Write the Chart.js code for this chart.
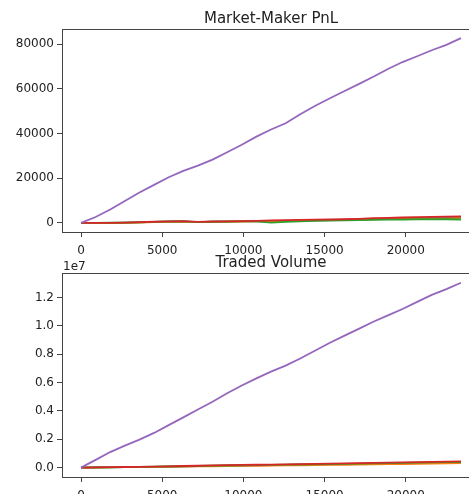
<!DOCTYPE html>
<html>
<head>
<meta charset="utf-8">
<script src="https://cdn.jsdelivr.net/npm/chart.js@4.4.0/dist/chart.umd.min.js"></script>
<style>
  html, body { margin: 0; padding: 0; background: #fff; overflow: hidden; width: 469px; height: 494px; }
  canvas { position: absolute; left: 0; }
  #pnlChart { top: 0; }
  #volChart { top: 240px; }
</style>
</head>
<body>
<canvas id="pnlChart" width="500" height="262"></canvas>
<canvas id="volChart" width="500" height="270"></canvas>
<script>
// time steps (x)
const steps = [0, 900, 1800, 2700, 3600, 4500, 5400, 6300, 7200, 8100, 9000, 9900, 10800, 11700,
  12600, 13500, 14400, 15300, 16200, 17100, 18000, 18900, 19800, 20700, 21600, 22500, 23400];

// market-maker PnL, one array per market maker
const pnlBlue = [0, 0, 0, 80, 200, 400, 550, 650, 350, 500, 600, 700, 800, 700, 850, 1000, 1100, 1250, 1400, 1550, 1700, 1800, 1950, 2100, 2200, 2300, 2400];
const pnlOrange = [0, -100, -100, 0, 150, 300, 450, 550, 300, 400, 500, 600, 700, 800, 900, 1000, 1100, 1200, 1300, 1500, 1600, 1700, 1800, 1900, 2000, 2000, 2100];
const pnlGreen = [0, 0, 50, 100, 250, 450, 600, 700, 350, 500, 550, 650, 700, 100, 450, 700, 900, 1000, 1100, 1200, 1300, 1400, 1500, 1600, 1700, 1600, 1500];
const pnlRed = [0, -50, 0, 100, 300, 500, 700, 800, 400, 600, 700, 800, 900, 1100, 1200, 1300, 1400, 1500, 1600, 1800, 2100, 2200, 2400, 2600, 2700, 2800, 2900];
const pnlPurple = [0, 2600, 6000, 9800, 13600, 17000, 20400, 23300, 25600, 28300, 31600, 35000, 38600, 41800, 44600, 48600, 52300, 55700, 58900, 62100, 65400, 68900, 72000, 74600, 77300, 79700, 82700];

// traded volume
const volBlue = [0, 12000, 24000, 36000, 48000, 61000, 76000, 92000, 108000, 124000, 139000, 153000, 166000, 179000, 192000, 205000, 218000, 231000, 244000, 259000, 277000, 294000, 309000, 324000, 339000, 355000, 370000];
const volOrange = [0, 10000, 20000, 30000, 40000, 50000, 62000, 75000, 88000, 100000, 112000, 123000, 134000, 145000, 156000, 168000, 180000, 192000, 204000, 216000, 230000, 244000, 258000, 272000, 288000, 304000, 320000];
const volGreen = [0, 13000, 26000, 39000, 52000, 66000, 82000, 100000, 118000, 136000, 152000, 166000, 180000, 194000, 208000, 222000, 236000, 250000, 264000, 280000, 300000, 318000, 334000, 350000, 366000, 384000, 400000];
const volRed = [0, 15000, 30000, 45000, 60000, 75000, 95000, 115000, 135000, 155000, 175000, 190000, 205000, 220000, 235000, 250000, 265000, 280000, 295000, 315000, 340000, 360000, 375000, 390000, 410000, 430000, 450000];
const volPurple = [0, 550000, 1100000, 1550000, 1980000, 2450000, 3000000, 3550000, 4100000, 4650000, 5250000, 5800000, 6300000, 6780000, 7200000, 7700000, 8250000, 8800000, 9300000, 9800000, 10300000, 10750000, 11200000, 11700000, 12200000, 12600000, 13050000];

// tick labels
const xTicks = [0, 5000, 10000, 15000, 20000];
const pnlTicks = [0, 20000, 40000, 60000, 80000];
const volTicks = [0, 2000000, 4000000, 6000000, 8000000, 10000000, 12000000];

const colors = ['#1f77b4', '#ff7f0e', '#2ca02c', '#d62728', '#9467bd'];
const font = { family: 'DejaVu Sans', size: 12 };
const textColor = '#222';

// draws the matplotlib-like frame, title and offset text
const framePlugin = {
  id: 'frame',
  afterDraw(chart, args, opts) {
    const ctx = chart.ctx;
    const a = chart.chartArea;
    ctx.save();
    ctx.strokeStyle = '#444';
    ctx.lineWidth = 1;
    ctx.strokeRect(a.left + 0.5, a.top + 0.5, a.right - a.left, a.bottom - a.top);
    ctx.fillStyle = textColor;
    ctx.font = '15px "DejaVu Sans"';
    ctx.textAlign = 'center';
    ctx.textBaseline = 'alphabetic';
    ctx.fillText(opts.title, (a.left + a.right) / 2, a.top - 6.5);
    if (opts.offset) {
      ctx.font = '12px "DejaVu Sans"';
      ctx.textAlign = 'left';
      ctx.fillText(opts.offset, a.left + 1, a.top - 3.5);
    }
    ctx.restore();
  }
};

function makeChart(id, series, yTicks, yMin, yMax, padTop, xHeight, title, offset, fmt) {
  const datasets = series.map((s, i) => ({
    data: s.map((v, j) => ({ x: steps[j], y: v })),
    borderColor: colors[i],
    borderWidth: 1.8,
    pointRadius: 0,
    tension: 0,
    fill: false,
    order: series.length - i
  }));
  return new Chart(document.getElementById(id), {
    type: 'line',
    data: { datasets },
    plugins: [framePlugin],
    options: {
      responsive: false,
      animation: false,
      layout: { padding: { top: padTop, right: 20, left: 0, bottom: 0 } },
      plugins: {
        legend: { display: false },
        tooltip: { enabled: false },
        frame: { title: title, offset: offset }
      },
      scales: {
        x: {
          type: 'linear',
          min: -1170,
          max: 24570,
          afterBuildTicks: (scale) => { scale.ticks = xTicks.map(v => ({ value: v })); },
          afterFit: (scale) => { scale.height = xHeight; },
          grid: { drawOnChartArea: false, drawTicks: true, tickLength: 5, tickColor: '#444' },
          border: { display: false },
          ticks: { color: textColor, font, padding: 7, maxRotation: 0, callback: v => String(v) }
        },
        y: {
          min: yMin,
          max: yMax,
          afterBuildTicks: (scale) => { scale.ticks = yTicks.map(v => ({ value: v })); },
          afterFit: (scale) => { scale.width = 62; },
          grid: { drawOnChartArea: false, drawTicks: true, tickLength: 5, tickColor: '#444' },
          border: { display: false },
          ticks: { color: textColor, font, padding: 3, callback: fmt }
        }
      }
    }
  });
}

makeChart('pnlChart', [pnlBlue, pnlOrange, pnlGreen, pnlRed, pnlPurple], pnlTicks,
  -4100, 86800, 29, 30, 'Market-Maker PnL', null, v => String(v));

makeChart('volChart', [volBlue, volOrange, volGreen, volRed, volPurple], volTicks,
  -660000, 13740000, 33, 33, 'Traded Volume', '1e7', v => (v / 1e7).toFixed(1));
</script>
</body>
</html>
